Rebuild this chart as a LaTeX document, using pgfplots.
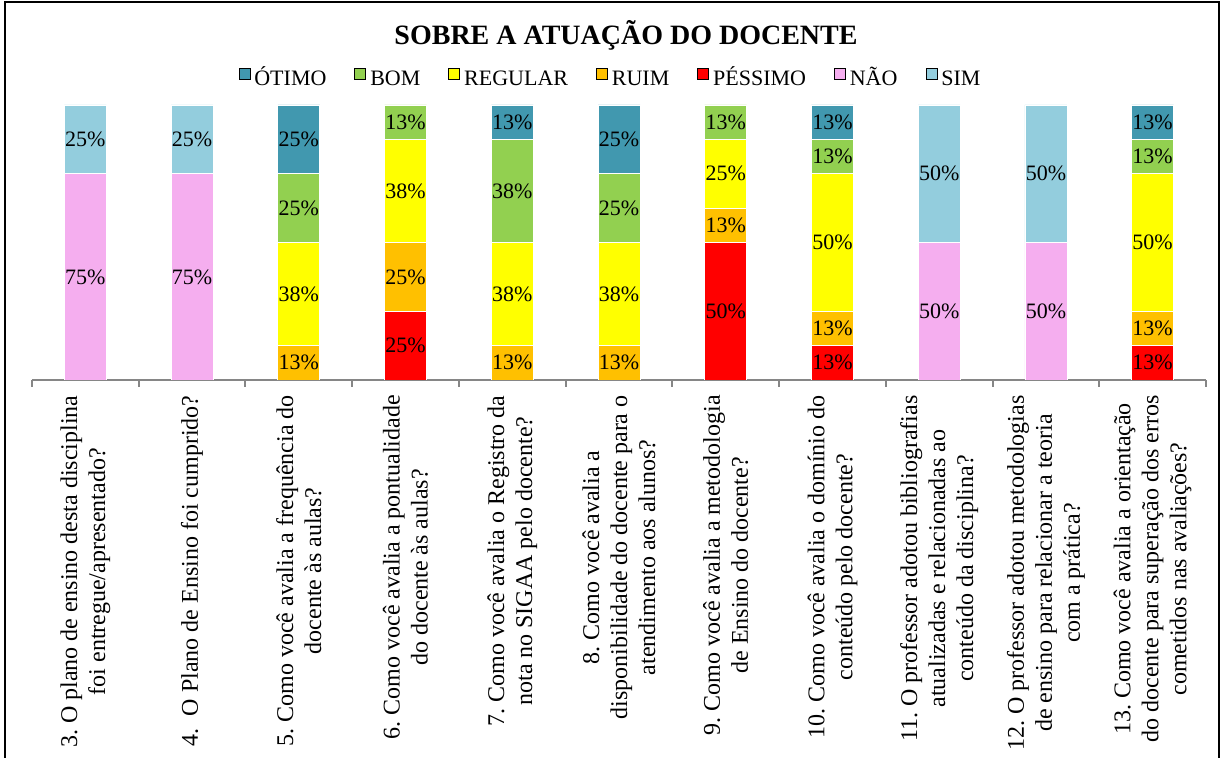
\documentclass[border=0pt]{standalone}
\usepackage{fontspec}
\setmainfont{Liberation Serif}
\usepackage{pgfplots}
\usepackage{pgfplotstable}
\pgfplotsset{compat=1.18}
\frenchspacing

\definecolor{otimo}{HTML}{4198AF}
\definecolor{bom}{HTML}{92D050}
\definecolor{regular}{HTML}{FFFF00}
\definecolor{ruim}{HTML}{FFC000}
\definecolor{pessimo}{HTML}{FF0000}
\definecolor{nao}{HTML}{F5AEEF}
\definecolor{sim}{HTML}{93CDDD}
\definecolor{axgray}{HTML}{868686}

% percentages per question (columns: pessimo, ruim, regular, bom, otimo, nao, sim)
\pgfplotstableread{
x  P     R     G     B     O     N   S
0  0     0     0     0     0     75  25
1  0     0     0     0     0     75  25
2  0     12.5  37.5  25    25    0   0
3  25    25    37.5  12.5  0     0   0
4  0     12.5  37.5  37.5  12.5  0   0
5  0     12.5  37.5  25    25    0   0
6  50    12.5  25    12.5  0     0   0
7  12.5  12.5  50    12.5  12.5  0   0
8  0     0     0     0     0     50  50
9  0     0     0     0     0     50  50
10 12.5  12.5  50    12.5  12.5  0   0
}\dados

\pgfplotsset{
  seg/.style={fill=#1, draw=white, line width=0.4pt, forget plot},
}

\begin{document}
\begin{tikzpicture}
\clip (0pt,0pt) rectangle (613pt,379pt);
\draw[line width=1pt] (2.5pt,-5pt) -- (2.5pt,378pt) -- (609.5pt,378pt) -- (609.5pt,-5pt);
\begin{axis}[
  at={(16pt,189pt)}, anchor=south west,
  scale only axis, width=587pt, height=137.5pt,
  ybar stacked, bar width=21pt,
  xmin=-0.5, xmax=10.5, ymin=0, ymax=100,
  axis x line=bottom, axis y line=none,
  x axis line style={-, draw=axgray, line width=1pt},
  xtick={0,...,10}, major tick length=0pt,
  minor xtick={-0.5,0.5,...,10.5}, minor tick length=3.5pt,
  tick align=outside,
  every tick/.style={draw=axgray, line width=1pt},
  ytick=\empty,
  xticklabel style={rotate=90, anchor=east, align=center, inner sep=0pt,
    font=\fontsize{12}{14}\selectfont},
  xticklabel shift=7.5pt,
  xticklabels={
    {3. O plano de ensino desta disciplina\\foi entregue/apresentado?},
    {4.\ \ O Plano de Ensino foi cumprido?},
    {5. Como você avalia a frequência do\\docente às aulas?},
    {6. Como você avalia a pontualidade\\do docente às aulas?},
    {7. Como você avalia o Registro da\\nota no SIGAA pelo docente?},
    {8. Como você avalia a\\disponibilidade do docente para o\\atendimento aos alunos?},
    {9. Como você avalia a metodologia\\de Ensino do docente?},
    {10. Como você avalia o domínio do\\conteúdo pelo docente?},
    {11. O professor adotou bibliografias\\atualizadas e relacionadas ao\\conteúdo da disciplina?},
    {12. O professor adotou metodologias\\de ensino para relacionar a teoria\\com a prática?},
    {13. Como você avalia a orientação\\do docente para superação dos erros\\cometidos nas avaliações?}
  },
  point meta=explicit,
  nodes near coords={\pgfmathfloatifflags{\pgfplotspointmeta}{0}{}{\pgfmathprintnumber[fixed,precision=0,assume math mode=true]{\pgfplotspointmeta}\%}},
  every node near coord/.append style={anchor=center, text=black,
    font=\fontsize{11}{13}\selectfont},
  title={SOBRE A ATUAÇÃO DO DOCENTE},
  title style={at={(0.506,1.178)}, anchor=base, inner sep=0pt,
    font=\bfseries\fontsize{14}{16}\selectfont},
  legend image code/.code={\fill[#1] (0pt,0pt) rectangle (5.5pt,5.5pt);},
  legend columns=-1,
  legend style={at={(0.4936,1.0945)}, anchor=center, draw=none,
    font=\fontsize{11}{13}\selectfont,
    /tikz/every even column/.append style={column sep=12pt,
      text height=8pt, text depth=2.5pt}},
]
\addlegendimage{fill=otimo}
\addlegendimage{fill=bom}
\addlegendimage{fill=regular}
\addlegendimage{fill=ruim}
\addlegendimage{fill=pessimo}
\addlegendimage{fill=nao}
\addlegendimage{fill=sim}

\addplot[seg=pessimo] table[x=x, y=P, meta=P] {\dados};
\addplot[seg=ruim] table[x=x, y=R, meta=R] {\dados};
\addplot[seg=regular] table[x=x, y=G, meta=G] {\dados};
\addplot[seg=bom] table[x=x, y=B, meta=B] {\dados};
\addplot[seg=otimo] table[x=x, y=O, meta=O] {\dados};
\addplot[seg=nao] table[x=x, y=N, meta=N] {\dados};
\addplot[seg=sim] table[x=x, y=S, meta=S] {\dados};

\legend{ÓTIMO, BOM, REGULAR, RUIM, PÉSSIMO, NÃO, SIM}
\end{axis}
\end{tikzpicture}
\end{document}
